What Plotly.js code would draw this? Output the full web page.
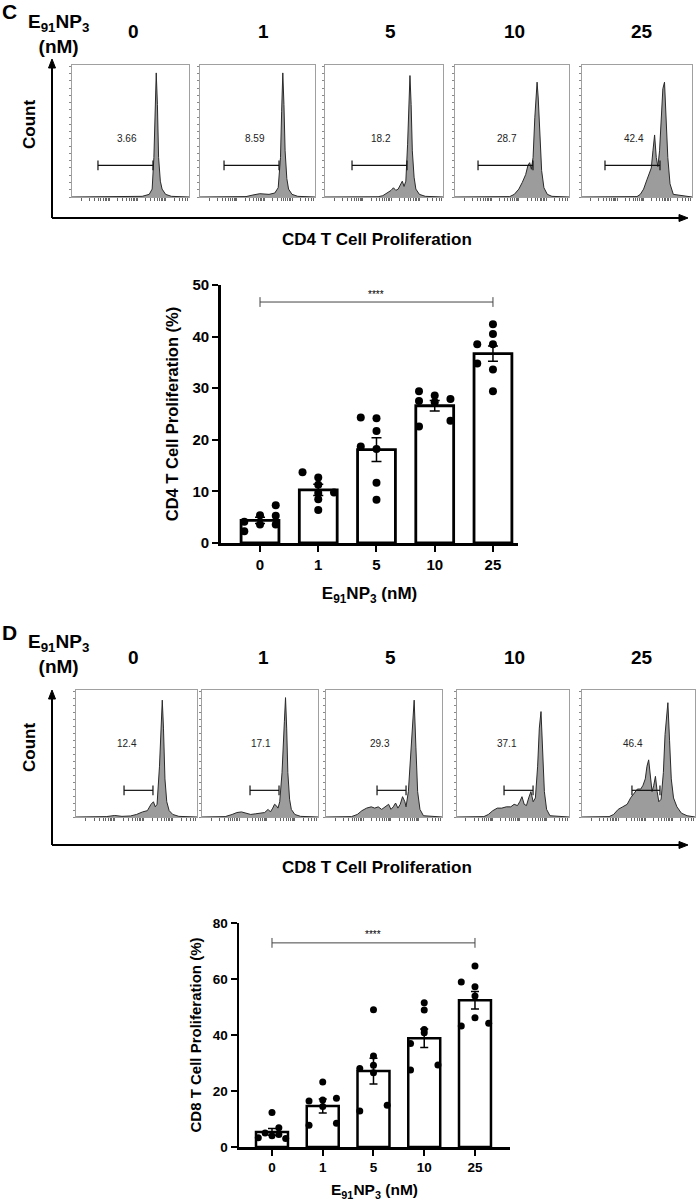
<!DOCTYPE html>
<html>
<head>
<meta charset="utf-8">
<script src="https://cdn.plot.ly/plotly-3.0.1.min.js"></script>
<style>
  html, body { margin: 0; padding: 0; background: #ffffff; }
  #chart { width: 698px; height: 1204px; }
</style>
</head>
<body>
<div id="chart"></div>
<script>
// Data

const doses = ['0', '1', '5', '10', '25'];

// Flow histograms: x in channel units (0-100 across the box), y as fraction of box height
const cd4HistX = [
    [0, 60, 66, 68.5, 70, 71, 72, 73, 74, 75.5, 77, 80, 85, 100],
    [0, 40, 46, 52, 60, 65, 68, 70, 71, 72, 73, 74, 75.5, 77, 80, 85, 100],
    [0, 45, 49, 53, 56, 58, 60, 62, 64, 65.5, 67, 68.5, 70, 71, 72, 73, 74, 75.5, 77, 80, 85, 100],
    [0, 48, 52, 56, 59, 62, 64, 65.5, 67, 68.5, 70, 71, 72, 73, 74.5, 76, 78, 81, 85, 100],
    [0, 50, 53, 56, 59, 61, 63, 64.5, 66, 67.5, 69, 70.5, 72, 73.5, 75, 76.5, 78, 80, 83, 100]
];
const cd4HistY = [
    [0, 0.005, 0.02, 0.06, 0.3, 0.7, 0.94, 0.7, 0.3, 0.12, 0.06, 0.02, 0.005, 0],
    [0, 0.003, 0.015, 0.025, 0.02, 0.03, 0.07, 0.3, 0.65, 0.94, 0.7, 0.35, 0.14, 0.06, 0.02, 0.005, 0],
    [0, 0.002, 0.01, 0.03, 0.05, 0.07, 0.05, 0.06, 0.1, 0.12, 0.08, 0.12, 0.4, 0.7, 0.92, 0.7, 0.35, 0.15, 0.06, 0.02, 0.005, 0],
    [0, 0.003, 0.02, 0.06, 0.11, 0.17, 0.24, 0.26, 0.21, 0.3, 0.6, 0.8, 0.87, 0.75, 0.45, 0.2, 0.07, 0.02, 0.005, 0],
    [0, 0.003, 0.02, 0.06, 0.13, 0.17, 0.22, 0.35, 0.47, 0.3, 0.23, 0.35, 0.62, 0.82, 0.87, 0.6, 0.3, 0.1, 0.02, 0]
];
const cd4GateLo = [22.2, 20.9, 22.9, 20.2, 20.9];
const cd4GateHi = [69.2, 68.7, 69.5, 68.4, 70.9];
const cd4GateY = 0.24;
const cd4GateLabels = ['3.66', '8.59', '18.2', '28.7', '42.4'];
const cd4GateLabelX = [47, 47.8, 47.5, 45.6, 47.3];

const cd8HistX = [
    [0, 25, 32, 38, 45, 50, 55, 59, 62, 64, 65.5, 67, 69, 70.3, 71.3, 72.3, 73.5, 75, 77, 80, 85, 100],
    [0, 20, 26, 30, 34, 38, 42, 46, 50, 54, 57, 59, 61, 62.5, 64, 65.5, 67, 69, 71, 72, 73, 74, 75.5, 77, 80, 85, 100],
    [0, 22, 27, 31, 35, 39, 42, 45, 48, 51, 54, 56, 58, 60, 62, 64, 66, 68, 69, 71, 73, 75, 76, 77.5, 79, 81, 84, 100],
    [0, 24, 28, 32, 36, 40, 44, 48, 51, 54, 56, 58, 60, 62, 64, 66, 68, 70, 72, 73.5, 75, 76.5, 78, 80, 83, 100],
    [0, 24, 28, 32, 36, 40, 43, 46, 49, 52, 54, 56, 57.5, 59, 60.5, 62, 63.5, 65, 66.5, 68, 70, 72, 73.5, 75, 76, 77.5, 79, 81, 84, 88, 93, 100]
];
const cd8HistY = [
    [0, 0.003, 0.012, 0.005, 0.008, 0.02, 0.04, 0.05, 0.1, 0.12, 0.08, 0.1, 0.4, 0.75, 0.92, 0.7, 0.3, 0.12, 0.05, 0.02, 0.005, 0],
    [0, 0.003, 0.02, 0.035, 0.04, 0.03, 0.02, 0.025, 0.03, 0.035, 0.06, 0.04, 0.07, 0.1, 0.09, 0.07, 0.12, 0.35, 0.75, 0.94, 0.7, 0.35, 0.14, 0.06, 0.02, 0.005, 0],
    [0, 0.003, 0.02, 0.05, 0.07, 0.08, 0.07, 0.08, 0.06, 0.08, 0.1, 0.06, 0.08, 0.11, 0.07, 0.1, 0.16, 0.12, 0.08, 0.2, 0.5, 0.85, 0.92, 0.55, 0.2, 0.06, 0.01, 0],
    [0, 0.003, 0.02, 0.05, 0.07, 0.07, 0.08, 0.08, 0.1, 0.09, 0.12, 0.16, 0.1, 0.09, 0.15, 0.2, 0.12, 0.15, 0.4, 0.7, 0.83, 0.55, 0.2, 0.06, 0.01, 0],
    [0, 0.003, 0.02, 0.06, 0.08, 0.1, 0.15, 0.19, 0.22, 0.22, 0.25, 0.3, 0.4, 0.45, 0.3, 0.2, 0.25, 0.32, 0.2, 0.12, 0.14, 0.35, 0.65, 0.85, 0.9, 0.6, 0.3, 0.15, 0.08, 0.03, 0.01, 0]
];
const cd8GateLo = [39.7, 41.4, 44.0, 42.0, 44.2];
const cd8GateHi = [63.6, 66.4, 69.0, 67.9, 69.0];
const cd8GateY = 0.21;
const cd8GateLabels = ['12.4', '17.1', '29.3', '37.1', '46.4'];
const cd8GateLabelX = [42, 51, 46.5, 44.6, 45.1];

// Bar charts: mean, SEM and individual replicates (% proliferation)
const cd4Mean = [4.4, 10.3, 18.1, 26.6, 36.7];
const cd4Sem = [0.6, 1.1, 2.3, 1.0, 1.5];
const cd4Points = [
    [4.1, 2.3, 5.4, 3.6, 7.3, 5.3, 3.6],
    [13.7, 12.7, 11.3, 9.7, 8.5, 6.4, 9.8],
    [24.3, 18.7, 24.2, 21.7, 18.2, 11.7, 8.4],
    [29.4, 27.5, 22.6, 28.6, 27.3, 27.9, 23.7],
    [38.5, 34.8, 42.4, 40.5, 38.5, 33.6, 29.4]
];
const cd4Cols = [
    [-1, -1, 0, 0, 1, 1, 1],
    [-1, 0, 0, 0, 0, 0, 1],
    [-1, -1, 0, 0, 0, 0, 0],
    [-1, -1, -1, 0, 0, 1, 1],
    [-1, -1, 0, 0, 0, 0, 0]
];
const cd4Sig = 46.7;

const cd8Mean = [5.4, 14.6, 27.1, 38.8, 52.4];
const cd8Sem = [1.2, 2.5, 4.6, 3.3, 3.1];
const cd8Points = [
    [12.3, 3.3, 5.0, 4.0, 6.9, 4.5, 3.0],
    [23.2, 16.4, 16.8, 17.4, 7.8, 8.5, 14.5],
    [49.0, 32.5, 29.2, 26.5, 28.0, 12.9, 14.9],
    [51.5, 48.9, 42.0, 40.8, 37.0, 27.5, 29.3],
    [64.6, 58.9, 57.2, 53.9, 46.2, 43.2, 44.2]
];
const cd8Cols = [
    [0, -2, -1, 0, 1, 1, 2],
    [0, -2, 0, 2, -2, 2, 0],
    [0, 0, 0, 0, -2, -2, 2],
    [0, 0, 0, 0, -2, -2, 2],
    [0, -2, 0, 0, 0, -2, 2]
];
const cd8Sig = 72.9;

// Layout helpers (page pixels -> paper)
const W = 698, H = 1204;
const px = v => v / W;
const py = v => 1 - v / H;
const FONT = 'Liberation Sans, Arial, sans-serif';

const cd4Boxes = [[72, 189], [200, 315], [325, 443], [455, 569], [582, 692]];
const cd8Boxes = [[76, 197], [202, 318], [326, 442], [457, 569], [582, 695]];
const colLabelX = [133, 263, 390, 514, 642];

// log-style tick marks along histogram x axis
const logTicks = [];
for (let d = 0; d < 4; d++) {
    for (let k = 1; k <= 9; k++) {
        const v = 8 + d * 24 + 24 * Math.log10(k);
        if (v < 100) logTicks.push(v);
    }
}

const traces = [];
const layout = {
    width: W,
    height: H,
    margin: { t: 0, b: 0, l: 0, r: 0 },
    paper_bgcolor: '#ffffff',
    plot_bgcolor: 'rgba(0,0,0,0)',
    showlegend: false,
    font: { family: FONT, color: '#000000' },
    annotations: [],
    shapes: []
};

function addHistograms(offset, boxes, yTop, yBot, xs, ys, lo, hi, gy, labels, labelX, labelY) {
    for (let i = 0; i < 5; i++) {
        const n = offset + i + 1;
        const xa = 'x' + n, ya = 'y' + n;
        traces.push({
            x: xs[i], y: ys[i], xaxis: xa, yaxis: ya,
            type: 'scatter', mode: 'lines', fill: 'tozeroy',
            fillcolor: '#9c9c9c', line: { color: '#2a2a2a', width: 1 },
            hoverinfo: 'skip'
        });
        traces.push({
            x: [lo[i], hi[i]], y: [gy, gy], xaxis: xa, yaxis: ya,
            type: 'scatter', mode: 'lines+markers',
            line: { color: '#111111', width: 1.2 },
            marker: { symbol: 'line-ns-open', size: 7, line: { width: 1.2, color: '#111111' } },
            hoverinfo: 'skip'
        });
        layout['xaxis' + n] = {
            domain: [px(boxes[i][0]), px(boxes[i][1])], anchor: ya,
            range: [0, 100], showgrid: false, zeroline: false,
            showline: true, mirror: true, linecolor: '#a0a0a0', linewidth: 1,
            ticks: 'outside', ticklen: 3, tickcolor: '#666666', tickwidth: 1,
            tickvals: logTicks, showticklabels: false
        };
        layout['yaxis' + n] = {
            domain: [py(yBot), py(yTop)], anchor: xa,
            range: [0, 1], showgrid: false, zeroline: false,
            showline: true, mirror: true, linecolor: '#a0a0a0', linewidth: 1,
            ticks: 'outside', ticklen: 2, tickcolor: '#888888', tickwidth: 1,
            dtick: 0.055, showticklabels: false
        };
        layout.annotations.push({
            xref: xa, yref: ya, x: labelX[i], y: labelY,
            text: labels[i], showarrow: false,
            font: { size: 10, color: '#222222', family: FONT }
        });
    }
}

addHistograms(0, cd4Boxes, 65, 197, cd4HistX, cd4HistY, cd4GateLo, cd4GateHi, cd4GateY, cd4GateLabels, cd4GateLabelX, 0.44);
addHistograms(5, cd8Boxes, 690, 817, cd8HistX, cd8HistY, cd8GateLo, cd8GateHi, cd8GateY, cd8GateLabels, cd8GateLabelX, 0.58);

function addBarChart(n, mean, sem, points, cols, colStep, sig, opts) {
    const xa = 'x' + n, ya = 'y' + n;
    const idx = doses.map((d, i) => i);
    traces.push({
        x: idx, y: mean, xaxis: xa, yaxis: ya, type: 'bar', width: opts.barWidth,
        marker: { color: '#ffffff', line: { color: '#000000', width: opts.lw } },
        error_y: { type: 'data', array: sem, visible: true, color: '#000000', thickness: 1.5, width: opts.cap },
        hoverinfo: 'skip'
    });
    const dotX = [], dotY = [];
    points.forEach((grp, i) => {
        grp.forEach((v, j) => {
            dotX.push(i + cols[i][j] * colStep);
            dotY.push(v);
        });
    });
    traces.push({
        x: dotX, y: dotY, xaxis: xa, yaxis: ya, type: 'scatter', mode: 'markers',
        marker: { color: '#000000', size: opts.dot },
        hoverinfo: 'skip'
    });
    traces.push({
        x: [0, 4], y: [sig, sig], xaxis: xa, yaxis: ya, type: 'scatter', mode: 'lines+markers',
        line: { color: '#444444', width: 1 },
        marker: { symbol: 'line-ns-open', size: 7, line: { width: 1, color: '#444444' } },
        hoverinfo: 'skip'
    });
    layout.annotations.push({
        xref: xa, yref: ya, x: 2, y: sig, yshift: 8, text: '****', showarrow: false,
        font: { size: 10, color: '#000000', family: FONT }
    });
    layout['xaxis' + n] = {
        domain: opts.xDom, anchor: ya, range: opts.xRange,
        tickvals: idx, ticktext: doses,
        ticks: 'outside', ticklen: 6, tickwidth: 2, tickcolor: '#000000',
        showline: true, linecolor: '#000000', linewidth: opts.lw,
        showgrid: false, zeroline: false,
        tickfont: { size: opts.tickSize, weight: 'bold', family: FONT },
        title: {
            text: 'E<sub>91</sub>NP<sub>3</sub> (nM)', standoff: opts.xStand,
            font: { size: opts.xTitleSize, weight: 'bold', family: FONT }
        }
    };
    layout['yaxis' + n] = {
        domain: opts.yDom, anchor: xa, range: opts.yRange, dtick: opts.dtick,
        ticks: 'outside', ticklen: 6, tickwidth: 2, tickcolor: '#000000',
        showline: true, linecolor: '#000000', linewidth: opts.lw,
        showgrid: false, zeroline: false,
        tickfont: { size: opts.tickSize, weight: 'bold', family: FONT },
        title: {
            text: opts.yTitle, standoff: opts.yStand,
            font: { size: opts.yTitleSize, weight: 'bold', family: FONT }
        }
    };
}

addBarChart(11, cd4Mean, cd4Sem, cd4Points, cd4Cols, 0.27, cd4Sig, {
    barWidth: 0.65, lw: 2.8, cap: 5, dot: 8,
    xDom: [px(221), px(518)], xRange: [-0.67, 4.43],
    yDom: [py(543), py(285)], yRange: [0, 50], dtick: 10,
    tickSize: 15, xTitleSize: 17, xStand: 16,
    yTitle: 'CD4 T Cell Proliferation (%)', yTitleSize: 16.5, yStand: 10
});
addBarChart(12, cd8Mean, cd8Sem, cd8Points, cd8Cols, 0.135, cd8Sig, {
    barWidth: 0.63, lw: 2.5, cap: 4, dot: 7,
    xDom: [px(239), px(510)], xRange: [-0.65, 4.69],
    yDom: [py(1147), py(923)], yRange: [0, 80], dtick: 20,
    tickSize: 13.5, xTitleSize: 15.5, xStand: 11,
    yTitle: 'CD8 T Cell Proliferation (%)', yTitleSize: 15, yStand: 8
});

// Panel text and axis arrows
function paperText(x, y, text, size, extra) {
    layout.annotations.push(Object.assign({
        xref: 'paper', yref: 'paper', x: px(x), y: py(y), text: text, showarrow: false,
        xanchor: 'center', yanchor: 'middle',
        font: { size: size, weight: 'bold', family: FONT, color: '#000000' }
    }, extra || {}));
}
function line(x0, y0, x1, y1) {
    layout.shapes.push({
        type: 'line', xref: 'paper', yref: 'paper',
        x0: px(x0), y0: py(y0), x1: px(x1), y1: py(y1),
        line: { color: '#000000', width: 2 }
    });
}
function head(pts) {
    const d = pts.map((p, i) => (i ? 'L' : 'M') + px(p[0]) + ',' + py(p[1])).join(' ') + ' Z';
    layout.shapes.push({
        type: 'path', xref: 'paper', yref: 'paper', path: d,
        fillcolor: '#000000', line: { color: '#000000', width: 1 }
    });
}

[['C', 12, 34, 59, 218, 240, 'CD4 T Cell Proliferation', 125, 31],
 ['D', 632, 654, 690, 845, 868, 'CD8 T Cell Proliferation', 748, 657]].forEach(p => {
    const [letter, letterY, headY, topY, axisY, labelY, label, countY, colY] = p;
    paperText(9, letterY, letter, 21);
    paperText(58, headY, 'E<sub>91</sub>NP<sub>3</sub><br>(nM)', 19);
    doses.forEach((d, i) => paperText(colLabelX[i], colY, d, 19));
    paperText(29, countY, 'Count', 17, { textangle: -90 });
    paperText(377, labelY, label, 17);
    line(52, axisY, 52, topY + 6);
    line(52, axisY, 681, axisY);
    head([[52, topY], [48.5, topY + 9], [55.5, topY + 9]]);
    head([[688, axisY], [679, axisY - 3.5], [679, axisY + 3.5]]);
});

Plotly.newPlot('chart', traces, layout, { displayModeBar: false, staticPlot: true });
</script>
</body>
</html>
